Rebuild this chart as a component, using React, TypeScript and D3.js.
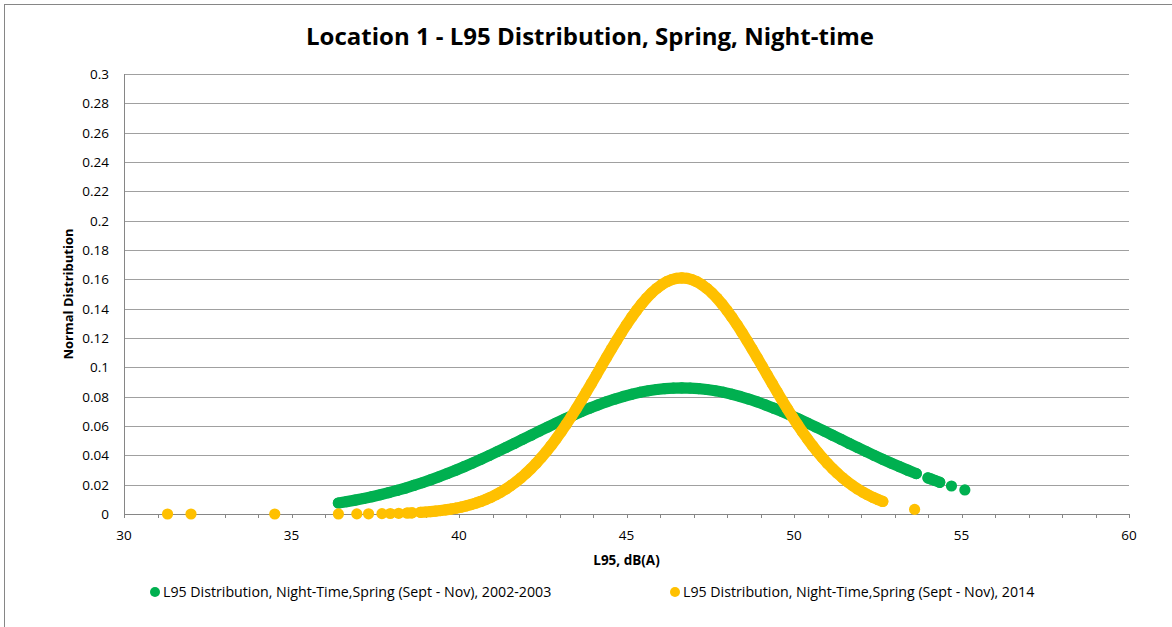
import React from "react";
import * as d3 from "d3";

// observed L95 values [dB(A), normal distribution]
const green0203: [number, number][] = [
  [36.4, 0.0075], [36.65, 0.00843], [36.9, 0.00946], [37.15, 0.01057], [37.4, 0.01179],
  [37.65, 0.01311], [37.9, 0.01453], [38.15, 0.01606], [38.4, 0.0177], [38.65, 0.01945],
  [38.9, 0.02132], [39.15, 0.02329], [39.4, 0.02537], [39.65, 0.02756], [39.9, 0.02985],
  [40.15, 0.03224], [40.4, 0.03471], [40.65, 0.03727], [40.9, 0.0399], [41.15, 0.0426],
  [41.4, 0.04534], [41.65, 0.04812], [41.9, 0.05092], [42.15, 0.05373], [42.4, 0.05653],
  [42.65, 0.05931], [42.9, 0.06204], [43.15, 0.06471], [43.4, 0.06729], [43.65, 0.06978],
  [43.9, 0.07215], [44.15, 0.07438], [44.4, 0.07646], [44.65, 0.07837], [44.9, 0.0801],
  [45.15, 0.08162], [45.4, 0.08294], [45.65, 0.08403], [45.9, 0.08488], [46.15, 0.0855],
  [46.4, 0.08588], [46.65, 0.086], [46.9, 0.08588], [47.15, 0.0855], [47.4, 0.08488],
  [47.65, 0.08403], [47.9, 0.08294], [48.15, 0.08162], [48.4, 0.0801], [48.65, 0.07837],
  [48.9, 0.07646], [49.15, 0.07438], [49.4, 0.07215], [49.65, 0.06978], [49.9, 0.06729],
  [50.15, 0.06471], [50.4, 0.06204], [50.65, 0.05931], [50.9, 0.05653], [51.15, 0.05373],
  [51.4, 0.05092], [51.65, 0.04812], [51.9, 0.04534], [52.15, 0.0426], [52.4, 0.0399],
  [52.65, 0.03727], [52.9, 0.03471], [53.15, 0.03224], [53.4, 0.02985], [53.65, 0.02756],
  [54.0, 0.0246], [54.1, 0.0238], [54.2, 0.0229], [54.35, 0.0216], [54.7, 0.0191],
  [55.1, 0.0164],
];

const orange2014: [number, number][] = [
  [31.3, 0.00001], [32.0, 0.00001], [34.5, 0.00001], [36.4, 0.00003], [36.95, 0.00008],
  [37.3, 0.00013], [37.7, 0.00024], [37.95, 0.00034], [38.2, 0.00048], [38.45, 0.00067],
  [38.6, 0.00082], [38.85, 0.00114], [39.0, 0.00137], [39.15, 0.00165], [39.3, 0.00198],
  [39.45, 0.00236], [39.6, 0.00281], [39.75, 0.00333], [39.9, 0.00394], [40.05, 0.00464],
  [40.2, 0.00544], [40.35, 0.00636], [40.5, 0.0074], [40.65, 0.00858], [40.8, 0.00992],
  [40.95, 0.01142], [41.1, 0.01311], [41.25, 0.01498], [41.4, 0.01706], [41.55, 0.01936],
  [41.7, 0.02189], [41.85, 0.02466], [42.0, 0.02768], [42.15, 0.03095], [42.3, 0.03448],
  [42.45, 0.03828], [42.6, 0.04234], [42.75, 0.04666], [42.9, 0.05123], [43.05, 0.05604],
  [43.2, 0.06108], [43.35, 0.06633], [43.5, 0.07177], [43.65, 0.07737], [43.8, 0.0831],
  [43.95, 0.08892], [44.1, 0.09481], [44.25, 0.10072], [44.4, 0.10661], [44.55, 0.11243],
  [44.7, 0.11813], [44.85, 0.12366], [45.0, 0.12899], [45.15, 0.13405], [45.3, 0.1388],
  [45.45, 0.14319], [45.6, 0.14718], [45.75, 0.15072], [45.9, 0.15379], [46.05, 0.15635],
  [46.2, 0.15837], [46.35, 0.15983], [46.5, 0.16071], [46.65, 0.161], [46.8, 0.16071],
  [46.95, 0.15983], [47.1, 0.15837], [47.25, 0.15635], [47.4, 0.15379], [47.55, 0.15072],
  [47.7, 0.14718], [47.85, 0.14319], [48.0, 0.1388], [48.15, 0.13405], [48.3, 0.12899],
  [48.45, 0.12366], [48.6, 0.11813], [48.75, 0.11243], [48.9, 0.10661], [49.05, 0.10072],
  [49.2, 0.09481], [49.35, 0.08892], [49.5, 0.0831], [49.65, 0.07737], [49.8, 0.07177],
  [49.95, 0.06633], [50.1, 0.06108], [50.25, 0.05604], [50.4, 0.05123], [50.55, 0.04666],
  [50.7, 0.04234], [50.85, 0.03828], [51.0, 0.03448], [51.15, 0.03095], [51.3, 0.02768],
  [51.45, 0.02466], [51.6, 0.02189], [51.75, 0.01936], [51.9, 0.01706], [52.05, 0.01498],
  [52.2, 0.01311], [52.35, 0.01142], [52.5, 0.00992], [52.65, 0.00858], [53.6, 0.00315],
];

const seriesNames = [
  "L95 Distribution, Night-Time,Spring (Sept - Nov), 2002-2003",
  "L95 Distribution, Night-Time,Spring (Sept - Nov), 2014",
];
const seriesColors = ["#00B050", "#FFC000"];
// readings closer than this (dB) merge into one solid band of markers
const seriesGap = [0.3, 0.2];
const xTicks = [30, 35, 40, 45, 50, 55, 60];
const yTicks = [0, 0.02, 0.04, 0.06, 0.08, 0.1, 0.12, 0.14, 0.16, 0.18, 0.2, 0.22, 0.24, 0.26, 0.28, 0.3];

const W = 1172;
const H = 627;
const LEFT = 124;
const RIGHT = 1129;
const TOP = 74;
const BOTTOM = 514;
const R = 5.6;
const FONT = "'Open Sans', 'Noto Sans', sans-serif";

function runs(data: [number, number][], gap: number) {
  const out: [number, number][][] = [];
  let cur: [number, number][] = [];
  data.forEach((d, i) => {
    if (i > 0 && d[0] - data[i - 1][0] > gap + 1e-9) {
      out.push(cur);
      cur = [];
    }
    cur.push(d);
  });
  out.push(cur);
  return out.filter((r) => r.length > 1);
}

export default function App() {
  const x = d3.scaleLinear().domain([30, 60]).range([LEFT, RIGHT]);
  const y = d3.scaleLinear().domain([0, 0.3]).range([BOTTOM, TOP]);
  const minorTicks = d3.range(30, 61, 1);
  const series = [green0203, orange2014];
  const line = d3
    .line<[number, number]>()
    .x((d) => x(d[0]))
    .y((d) => y(d[1]));

  return (
    <svg
      width={W}
      height={H}
      style={{ position: "absolute", left: 0, top: 0, background: "#fff" }}
      fontFamily={FONT}
    >
      <rect x={4.5} y={4.5} width={1300} height={800} fill="#fff" stroke="#868686" />
      <text x={590} y={45} textAnchor="middle" fontSize={24} fontWeight="bold" fill="#000">
        Location 1 - L95 Distribution, Spring, Night-time
      </text>

      {/* gridlines + y labels */}
      {yTicks.map((t) => (
        <g key={t}>
          {t > 0 && (
            <line x1={LEFT} x2={RIGHT} y1={Math.round(y(t)) + 0.5} y2={Math.round(y(t)) + 0.5} stroke="#a0a0a0" />
          )}
          <text x={109} y={y(t) + 5} textAnchor="end" fontSize={13.5} fill="#000">
            {d3.format("~g")(t)}
          </text>
        </g>
      ))}

      {/* axes */}
      <line x1={LEFT + 0.5} x2={LEFT + 0.5} y1={TOP} y2={BOTTOM} stroke="#868686" />
      <line x1={LEFT} x2={RIGHT} y1={BOTTOM + 0.5} y2={BOTTOM + 0.5} stroke="#868686" />
      {minorTicks.map((t) => (
        <line
          key={t}
          x1={Math.round(x(t)) + 0.5}
          x2={Math.round(x(t)) + 0.5}
          y1={BOTTOM}
          y2={BOTTOM + 4}
          stroke="#868686"
        />
      ))}
      {xTicks.map((t) => (
        <text key={t} x={x(t)} y={540} textAnchor="middle" fontSize={13.5} fill="#000">
          {t}
        </text>
      ))}

      <text x={x(45)} y={565} textAnchor="middle" fontSize={13.5} fontWeight="bold" fill="#000">
        L95, dB(A)
      </text>
      <text
        transform={`translate(73, ${(TOP + BOTTOM) / 2}) rotate(-90)`}
        textAnchor="middle"
        fontSize={13}
        fontWeight="bold"
        fill="#000"
      >
        Normal Distribution
      </text>

      {/* points */}
      {series.map((s, i) => (
        <g key={i} fill={seriesColors[i]}>
          {runs(s, seriesGap[i]).map((r, j) => (
            <path
              key={j}
              d={line(r) ?? ""}
              fill="none"
              stroke={seriesColors[i]}
              strokeWidth={R * 2}
              strokeLinecap="round"
              strokeLinejoin="round"
            />
          ))}
          {s.map((d, j) => (
            <circle key={j} cx={x(d[0])} cy={y(d[1])} r={R} />
          ))}
        </g>
      ))}

      {/* legend */}
      {seriesNames.map((name, i) => {
        const lx = i === 0 ? 155 : 675;
        return (
          <g key={name}>
            <circle cx={lx} cy={592} r={5} fill={seriesColors[i]} />
            <text x={lx + 8} y={597} fontSize={14.2} fill="#000">
              {name}
            </text>
          </g>
        );
      })}
    </svg>
  );
}
